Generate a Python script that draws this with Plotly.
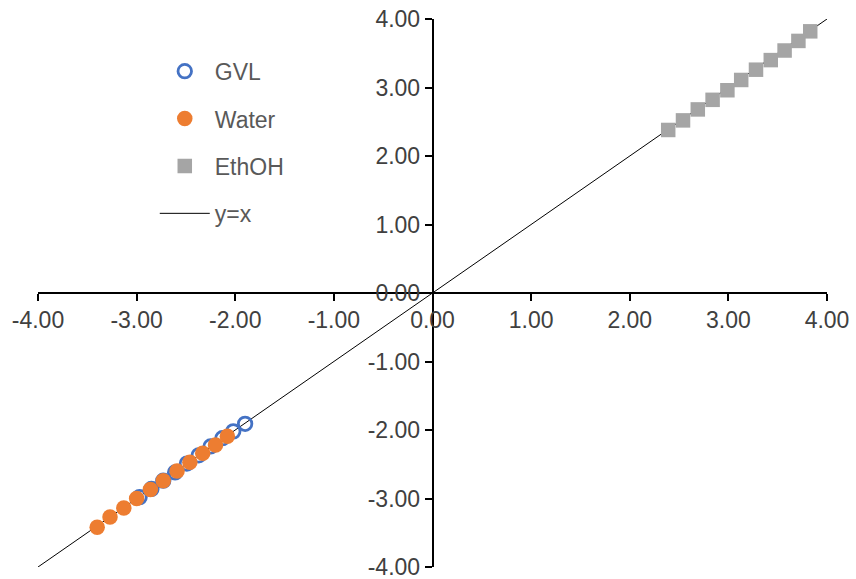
import plotly.graph_objects as go

# Data
gvl_x = [-1.90, -2.02, -2.13, -2.25, -2.37, -2.49, -2.61, -2.73, -2.85, -2.97]
gvl_y = [-1.91, -2.02, -2.12, -2.24, -2.37, -2.49, -2.62, -2.74, -2.86, -2.98]

water_x = [-3.40, -3.27, -3.13, -3.00, -2.86, -2.73, -2.59, -2.46, -2.33, -2.20, -2.08]
water_y = [-3.42, -3.27, -3.14, -3.00, -2.87, -2.74, -2.60, -2.47, -2.34, -2.22, -2.09]

eth_x = [2.39, 2.54, 2.69, 2.84, 2.99, 3.13, 3.28, 3.43, 3.57, 3.71, 3.83]
eth_y = [2.38, 2.52, 2.68, 2.82, 2.96, 3.11, 3.26, 3.40, 3.54, 3.68, 3.82]

ref_x = [-4, 4]
ref_y = [-4, 4]

tick_vals = [-4, -3, -2, -1, 0, 1, 2, 3, 4]
tick_text = ["-4.00", "-3.00", "-2.00", "-1.00", "0.00", "1.00", "2.00", "3.00", "4.00"]

fig = go.Figure()

fig.add_trace(go.Scatter(
    x=ref_x, y=ref_y, mode="lines", name="y=x",
    line=dict(color="black", width=1), legendrank=4, legendgroup="d",
))
fig.add_trace(go.Scatter(
    x=gvl_x, y=gvl_y, mode="markers", name="GVL",
    marker=dict(symbol="circle-open", size=13.5, color="#4472C4", line=dict(width=2.8, color="#4472C4")),
    legendrank=1, legendgroup="a",
))
fig.add_trace(go.Scatter(
    x=water_x, y=water_y, mode="markers", name="Water",
    marker=dict(symbol="circle", size=15.5, color="#ED7D31"),
    legendrank=2, legendgroup="b",
))
fig.add_trace(go.Scatter(
    x=eth_x, y=eth_y, mode="markers", name="EthOH",
    marker=dict(symbol="square", size=14.5, color="#A5A5A5"),
    legendrank=3, legendgroup="c",
))

axis_common = dict(
    range=[-4, 4], tickvals=tick_vals, ticktext=tick_text,
    showgrid=False, zeroline=False, showline=True,
    linecolor="black", linewidth=1.5,
    ticks="outside", ticklen=7, tickwidth=1.5, tickcolor="black",
    tickfont=dict(family="Liberation Sans, Arial", size=23, color="#404040"),
    anchor="free", position=0.5, automargin=False,
    ticklabeloverflow="allow",
)

fig.update_layout(
    width=856, height=579,
    margin=dict(l=38, r=29, t=19, b=12, autoexpand=False),
    plot_bgcolor="white", paper_bgcolor="white",
    xaxis=dict(**axis_common),
    yaxis=dict(**axis_common),
    showlegend=True,
    legend=dict(
        x=0.148, y=0.944, xanchor="left", yanchor="top",
        font=dict(family="Liberation Sans, Arial", size=23, color="#595959"),
        tracegroupgap=14.5, bgcolor="rgba(0,0,0,0)", itemwidth=50,
    ),
)

fig.write_html(
    "out.html",
    config={"displayModeBar": False},
    post_script="document.body.style.margin='0';document.body.style.overflow='hidden';",
)
